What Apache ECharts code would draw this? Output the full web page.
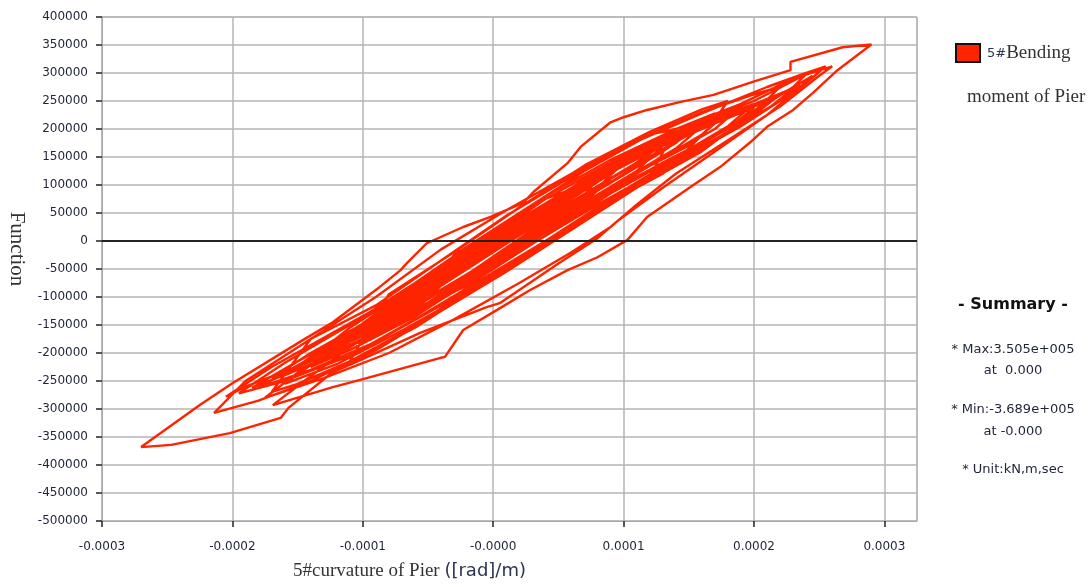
<!DOCTYPE html>
<html>
<head>
<meta charset="utf-8">
<script src="https://cdn.jsdelivr.net/npm/echarts@6/dist/echarts.min.js"></script>
<style>
  html, body { margin: 0; padding: 0; background: #fff; }
  #chart { width: 1091px; height: 587px; }
</style>
</head>
<body>
<div id="chart"></div>
<script>
// points are [curvature x 1e4 (rad/m), moment / 1000 (kN*m)]
var earlyCycles = [
  [0.0, 10], [0.4, 75], [0.8, 110], [0.6, 55], [0.2, -20], [-0.2, -80], [-0.6, -120],
  [-0.3, -25], [0.2, 50], [0.7, 125], [1.2, 190], [1.4, 200], [1.2, 115], [0.8, 60], [0.3, -15], [-0.2, -90], [-0.7, -165], [-1.1, -215],
  [-0.8, -95], [-0.3, -20], [0.2, 60], [0.7, 135], [1.2, 195], [1.6, 235], [1.8, 250], [1.65, 200], [1.3, 120], [0.9, 70], [0.4, -5], [-0.1, -80], [-0.6, -155], [-1.1, -215], [-1.5, -255], [-1.7, -270],
  [-1.4, -175], [-0.9, -115], [-0.4, -35], [0.1, 45], [0.6, 115], [1.1, 180], [1.6, 230], [2.0, 262], [2.2, 275], [2.0, 230], [1.6, 160], [1.1, 95], [0.6, 20], [0.1, -55], [-0.4, -125], [-0.9, -195], [-1.4, -250], [-1.8, -285], [-2.14, -307],
  [-1.9, -250], [-1.4, -175], [-0.9, -100], [-0.4, -15], [0.1, 55], [0.6, 120], [1.1, 178], [1.6, 228], [2.1, 275], [2.4, 300], [2.55, 312],
  [2.45, 292], [2.1, 225], [1.7, 160], [1.3, 95], [0.95, 35], [0.8, 5], [0.5, -40], [0.05, -111], [-0.05, -118], [-0.56, -164], [-1.07, -218], [-1.23, -234], [-1.57, -298], [-1.63, -316], [-2.02, -343], [-2.47, -364], [-2.70, -368]
];

var outerLoop = [
  [-2.25, -293], [-2.0, -254], [-1.46, -177], [-1.23, -145], [-0.87, -82], [-0.71, -52], [-0.66, -39], [-0.51, -4], [-0.23, 25], [-0.02, 43], [0.23, 68], [0.31, 88], [0.57, 139], [0.67, 168], [0.90, 212], [1.0, 221], [1.18, 234], [1.43, 248], [1.69, 261], [1.99, 284], [2.28, 305], [2.28, 320], [2.68, 346], [2.90, 351],
  [2.64, 305], [2.45, 264], [2.30, 234], [2.10, 204], [1.99, 180], [1.74, 132], [1.51, 96], [1.18, 43], [1.03, 2], [0.80, -29], [0.57, -52], [0.28, -88], [0.03, -123], [-0.23, -159], [-0.37, -207], [-0.41, -209], [-1.02, -248], [-1.23, -261], [-1.69, -293]
];

var lateCycles = [
  [-1.45, -250], [-1.1, -190], [-0.6, -110], [-0.1, -25], [0.4, 60], [0.9, 140], [1.4, 200], [1.9, 245], [2.3, 290], [2.6, 312],
  [2.5, 295], [2.2, 240], [1.8, 180], [1.4, 120], [1.1, 65], [0.9, 25], [0.6, -20], [0.2, -75], [-0.3, -140], [-0.8, -200], [-1.3, -245], [-1.75, -280],
  [-1.5, -235], [-1.0, -165], [-0.5, -85], [0.0, 0], [0.5, 80], [1.0, 150], [1.5, 205], [2.0, 250], [2.4, 298],
  [2.3, 275], [1.9, 215], [1.5, 160], [1.1, 105], [0.7, 45], [0.3, -20], [-0.2, -95], [-0.7, -160], [-1.2, -220], [-1.6, -255],
  [-1.3, -205], [-0.8, -130], [-0.3, -50], [0.2, 30], [0.7, 105], [1.2, 170], [1.7, 220], [2.0, 245],
  [1.8, 205], [1.4, 150], [0.9, 85], [0.4, 15], [-0.1, -60], [-0.6, -135], [-1.1, -195], [-1.4, -225],
  [-1.1, -175], [-0.6, -100], [-0.1, -15], [0.4, 60], [0.9, 130], [1.4, 185], [1.6, 205],
  [1.4, 165], [1.0, 110], [0.5, 40], [0.0, -35], [-0.5, -110], [-1.0, -170], [-1.2, -190],
  [-0.9, -140], [-0.4, -60], [0.1, 20], [0.6, 95], [1.1, 160], [1.3, 180],
  [1.1, 135], [0.7, 75], [0.2, 0], [-0.3, -75], [-0.8, -140], [-0.9, -155],
  [-0.6, -95], [-0.1, -15], [0.4, 65], [0.9, 130], [1.0, 140],
  [0.8, 95], [0.3, 20], [-0.2, -60], [-0.5, -100], [-0.2, -40], [0.2, 25], [0.5, 70], [0.3, 30], [0.0, -10]
];

var coreCycles = [
  [0.5, 70], [1.0, 150], [1.5, 205], [1.9, 240], [1.7, 200], [1.2, 135], [0.7, 65], [0.2, -10], [-0.3, -85], [-0.8, -155], [-1.3, -210], [-1.6, -240],
  [-1.3, -190], [-0.8, -125], [-0.3, -45], [0.2, 35], [0.7, 110], [1.2, 170], [1.7, 215], [2.1, 250], [1.9, 215], [1.4, 150], [0.9, 85], [0.4, 10], [-0.1, -65], [-0.6, -130], [-1.1, -195], [-1.5, -230], [-1.85, -262],
  [-1.5, -215], [-1.0, -150], [-0.5, -75], [0.0, 5], [0.5, 80], [1.0, 145], [1.5, 195], [1.75, 220], [1.5, 170], [1.0, 110], [0.5, 35], [0.0, -40], [-0.5, -110], [-1.0, -175], [-1.35, -215],
  [-1.0, -160], [-0.5, -85], [0.0, -5], [0.5, 70], [1.0, 140], [1.35, 180], [1.1, 140], [0.6, 70], [0.1, -5], [-0.4, -80], [-0.9, -150], [-1.15, -180],
  [-0.8, -125], [-0.3, -50], [0.2, 30], [0.7, 100], [1.2, 165], [1.55, 200], [1.3, 160], [0.8, 90], [0.3, 15], [-0.2, -60], [-0.7, -130], [-1.2, -190], [-1.45, -215],
  [-1.1, -165], [-0.6, -90], [-0.1, -15], [0.4, 60], [0.9, 125], [1.4, 185], [1.85, 225], [2.2, 262], [2.0, 225], [1.6, 175], [1.1, 115], [0.6, 45], [0.1, -30], [-0.4, -100], [-0.9, -165], [-1.4, -215], [-1.9, -260], [-2.05, -278],
  [-1.7, -225], [-1.2, -160], [-0.7, -95], [-0.2, -20], [0.3, 50], [0.8, 115], [1.3, 175], [1.8, 220], [2.15, 255], [2.35, 280], [2.2, 250], [1.8, 195], [1.3, 130], [0.8, 65], [0.3, -5], [-0.2, -75], [-0.7, -140], [-1.2, -200], [-1.6, -240],
  [-1.3, -195], [-0.8, -125], [-0.3, -45], [0.2, 35], [0.7, 105], [1.1, 160], [0.9, 120], [0.4, 45], [-0.1, -30], [-0.6, -105], [-0.95, -150], [-0.6, -85], [-0.1, 0], [0.3, 50]
];

var denseCycles = [
  [0.8, 125], [1.3, 185], [1.6, 215], [1.4, 175], [0.9, 105], [0.4, 30], [-0.1, -45], [-0.6, -115], [-1.1, -180], [-1.4, -210],
  [-1.1, -155], [-0.6, -80], [-0.1, 0], [0.4, 75], [0.9, 140], [1.4, 195], [1.8, 232], [1.6, 190], [1.1, 120], [0.6, 50], [0.1, -25], [-0.4, -100], [-0.9, -165], [-1.3, -205], [-1.7, -245],
  [-1.4, -200], [-0.9, -135], [-0.4, -55], [0.1, 25], [0.6, 95], [1.1, 155], [1.6, 205], [2.05, 245], [2.3, 272], [2.1, 235], [1.6, 165], [1.1, 100], [0.6, 30], [0.1, -45], [-0.4, -115], [-0.9, -180], [-1.4, -230], [-1.8, -262],
  [-1.5, -222], [-1.0, -160], [-0.5, -90], [0.0, -10], [0.5, 65], [1.0, 135], [1.3, 170], [1.1, 125], [0.6, 55], [0.1, -20], [-0.4, -90], [-0.8, -145],
  [-0.5, -95], [0.0, -20], [0.5, 55], [0.9, 110], [0.7, 70], [0.2, 0], [-0.3, -75], [-0.7, -130], [-1.0, -165],
  [-0.7, -110], [-0.2, -35], [0.3, 40], [0.8, 110], [1.3, 170], [1.7, 210], [2.0, 238], [1.8, 200], [1.3, 140], [0.8, 75], [0.3, 5], [-0.2, -70], [-0.7, -140], [-1.2, -200], [-1.55, -235],
  [-1.2, -180], [-0.7, -110], [-0.2, -30], [0.3, 45], [0.8, 118], [1.3, 178], [1.8, 225], [2.25, 268], [2.45, 295], [2.3, 265], [1.9, 205], [1.4, 140], [0.9, 75], [0.4, 0], [-0.1, -70], [-0.6, -140], [-1.1, -205], [-1.6, -250], [-1.95, -272],
  [-1.6, -218], [-1.1, -150], [-0.6, -75], [-0.1, 5], [0.4, 80], [0.9, 145], [1.4, 200], [1.7, 228], [1.5, 190], [1.0, 125], [0.5, 55], [0.0, -20], [-0.5, -95], [-1.0, -160], [-1.25, -190], [-0.9, -130], [-0.4, -50], [0.1, 25], [0.5, 75]
];

var summaryLines = ['* Max:3.505e+005', 'at  0.000', '* Min:-3.689e+005', 'at -0.000', '* Unit:kN,m,sec'];

var points = earlyCycles.concat(outerLoop, lateCycles, coreCycles, denseCycles).map(function (p) {
  return [p[0] * 1e-4, p[1] * 1000];
});

var myChart = echarts.init(document.getElementById('chart'));
var textColor = '#1e2438';
var gridColor = '#b4b4b4';
var serif = '"Liberation Serif"';

myChart.setOption({
  animation: false,
  grid: {
    left: 102,
    right: 174,
    top: 17,
    bottom: 66,
    show: true,
    borderColor: '#a8a8a8',
    borderWidth: 1
  },
  xAxis: {
    type: 'value',
    min: -0.0003,
    max: 0.000325,
    interval: 0.0001,
    axisLine: { onZero: false, lineStyle: { color: '#a8a8a8' } },
    axisTick: { show: true, length: 6, lineStyle: { color: '#222', width: 1.5 } },
    axisLabel: {
      showMaxLabel: false,
      margin: 20,
      color: textColor,
      fontFamily: 'DejaVu Sans',
      fontSize: 12,
      formatter: function (v) {
        return Math.abs(v) < 1e-12 ? '-0.0000' : v.toFixed(4);
      }
    },
    splitLine: { lineStyle: { color: gridColor, width: 1.5 } }
  },
  yAxis: {
    type: 'value',
    min: -500000,
    max: 400000,
    interval: 50000,
    axisLine: { onZero: false, lineStyle: { color: '#a8a8a8' } },
    axisTick: { show: true, length: 6, lineStyle: { color: '#222', width: 1.5 } },
    axisLabel: {
      margin: 14,
      color: textColor,
      fontFamily: 'DejaVu Sans',
      fontSize: 12,
      formatter: function (v) { return String(v); }
    },
    splitLine: { lineStyle: { color: gridColor, width: 1.5 } }
  },
  series: [
    {
      name: '5#Bending moment of Pier',
      type: 'line',
      data: points,
      showSymbol: false,
      lineStyle: { color: '#ff2400', width: 2.4 },
      markLine: {
        silent: true,
        symbol: 'none',
        label: { show: false },
        lineStyle: { color: '#222', width: 2, type: 'solid' },
        data: [{ yAxis: 0 }]
      }
    }
  ],
  graphic: [
    {
      type: 'text', x: 17, y: 249, rotation: -Math.PI / 2,
      style: { text: 'Function', font: '21px ' + serif, fill: '#333', textAlign: 'center', textVerticalAlign: 'middle' }
    },
    {
      type: 'text', x: 293, y: 562,
      style: {
        text: '{a|5#curvature of Pier }{b|([rad]/m)}',
        rich: {
          a: { font: '19px ' + serif, fill: '#333' },
          b: { font: '18px "DejaVu Sans"', fill: '#2a3550' }
        }
      }
    },
    {
      type: 'rect', shape: { x: 956, y: 44, width: 24, height: 18 },
      style: { fill: '#ff2400', stroke: '#111', lineWidth: 2 }
    },
    {
      type: 'text', x: 987, y: 44,
      style: {
        text: '{a|5#}{b|Bending}',
        rich: {
          a: { font: '13px "DejaVu Sans"', fill: '#2a3550' },
          b: { font: '19px ' + serif, fill: '#333' }
        }
      }
    },
    {
      type: 'text', x: 967, y: 88,
      style: { text: 'moment of Pier', font: '19px ' + serif, fill: '#333' }
    },
    {
      type: 'text', x: 1013, y: 297,
      style: { text: '- Summary -', font: 'bold 16px "DejaVu Sans"', fill: '#111', textAlign: 'center' }
    },
    {
      type: 'text', x: 1013, y: 343,
      style: { text: summaryLines[0], font: '13px "DejaVu Sans"', fill: textColor, textAlign: 'center' }
    },
    {
      type: 'text', x: 1013, y: 364,
      style: { text: summaryLines[1], font: '13px "DejaVu Sans"', fill: textColor, textAlign: 'center' }
    },
    {
      type: 'text', x: 1013, y: 403,
      style: { text: summaryLines[2], font: '13px "DejaVu Sans"', fill: textColor, textAlign: 'center' }
    },
    {
      type: 'text', x: 1013, y: 425,
      style: { text: summaryLines[3], font: '13px "DejaVu Sans"', fill: textColor, textAlign: 'center' }
    },
    {
      type: 'text', x: 1013, y: 463,
      style: { text: summaryLines[4], font: '13px "DejaVu Sans"', fill: textColor, textAlign: 'center' }
    }
  ]
});
</script>
</body>
</html>
